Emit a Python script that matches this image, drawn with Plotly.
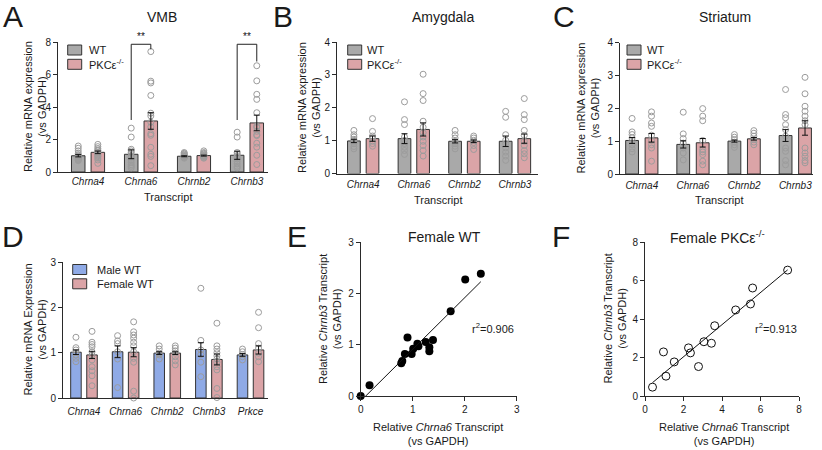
import numpy as np
import plotly.graph_objects as go

W, H = 822, 450
FONT = "Liberation Sans, Arial, Helvetica, sans-serif"
TXT = "#1a1a1a"
AXC = "#2a2a2a"
GRAY = "#a9a9a9"
PINK = "#dba4a7"
BLUE = "#8faae6"
DOT = "#9c9c9c"

# ---------------- data ----------------
genes4 = ["Chrna4", "Chrna6", "Chrnb2", "Chrnb3"]
genes5 = ["Chrna4", "Chrna6", "Chrnb2", "Chrnb3", "Prkce"]

# Panel F: female PKCe-/- (Chrna6 vs Chrnb3)
f_chrna6 = [0.39, 0.96, 1.09, 1.52, 2.26, 2.36, 2.78, 3.06, 3.45, 3.62, 4.71, 5.48, 5.59, 7.41]
f_chrnb3 = [0.46, 2.29, 1.03, 1.77, 2.50, 2.24, 1.53, 2.82, 2.74, 3.65, 4.47, 4.78, 5.61, 6.54]

# Panel E: female WT (Chrna6 vs Chrnb3)
e_chrna6 = [0.0, 0.17, 0.78, 0.80, 0.85, 0.90, 0.98, 1.01, 1.09, 1.11, 1.25, 1.32, 1.32, 1.39, 1.73, 2.01, 2.31]
e_chrnb3 = [0.0, 0.21, 0.64, 0.68, 0.82, 1.14, 0.82, 0.92, 1.02, 0.97, 1.05, 0.95, 0.87, 1.09, 1.65, 2.27, 2.38]

# Panel A: VMB
vmb_wt_mean = [1.00, 1.09, 0.97, 1.03]
vmb_wt_sem = [0.07, 0.27, 0.03, 0.25]
vmb_ko_mean = [1.21, 3.14, 1.01, 3.02]
vmb_ko_sem = [0.08, 0.51, 0.03, 0.48]
vmb_wt_pts = [
    [1.60, 1.46, 1.30, 1.15, 1.05, 1.00, 0.95, 0.90, 0.85, 0.80, 0.75, 0.70],
    [2.70, 2.15, 1.40, 1.30, 1.20, 1.00, 0.90, 0.75, 0.60, 0.45, 0.35, 0.25],
    [1.20, 1.15, 1.10, 1.05, 1.00, 1.00, 0.95, 0.95, 0.90, 0.85],
    [2.45, 2.15, 1.20, 1.10, 1.00, 0.90, 0.80, 0.65, 0.50, 0.35, 0.25],
]
vmb_ko_pts = [
    [1.70, 1.56, 1.45, 1.35, 1.30, 1.21, 1.15, 1.09, 1.00, 0.94, 0.85, 0.74, 0.53],
    f_chrna6,
    [1.30, 1.20, 1.15, 1.10, 1.05, 1.00, 1.00, 0.95, 0.90, 0.85],
    f_chrnb3,
]

# Panel B: Amygdala
amy_wt_mean = [0.99, 1.06, 0.98, 0.98]
amy_wt_sem = [0.05, 0.15, 0.05, 0.16]
amy_ko_mean = [1.06, 1.34, 0.98, 1.06]
amy_ko_sem = [0.08, 0.20, 0.04, 0.14]
amy_wt_pts = [
    [1.31, 1.18, 1.11, 1.04, 0.98, 0.91, 0.82, 0.75],
    [2.18, 1.64, 1.49, 1.11, 1.01, 0.91, 0.80, 0.70, 0.58],
    [1.31, 1.18, 1.08, 0.98, 0.91, 0.83, 0.75],
    [1.89, 1.71, 1.18, 1.01, 0.91, 0.78, 0.65, 0.53, 0.40],
]
amy_ko_pts = [
    [1.67, 1.28, 1.14, 1.08, 0.98, 0.91, 0.83],
    [3.02, 2.43, 2.22, 1.59, 1.41, 1.24, 1.11, 0.98, 0.85, 0.70, 0.53],
    [1.14, 1.08, 1.01, 0.94, 0.85, 0.73],
    [2.28, 1.79, 1.64, 1.31, 1.16, 0.98, 0.85, 0.70, 0.60, 0.48],
]

# Panel C: Striatum
str_wt_mean = [1.02, 0.90, 1.00, 1.17]
str_wt_sem = [0.09, 0.11, 0.03, 0.18]
str_ko_mean = [1.10, 0.95, 1.07, 1.40]
str_ko_sem = [0.13, 0.13, 0.04, 0.22]
str_wt_pts = [
    [1.69, 1.28, 1.20, 1.10, 1.02, 0.89, 0.77, 0.67],
    [1.88, 1.22, 1.08, 0.94, 0.79, 0.64, 0.43],
    [1.20, 1.12, 1.05, 0.97, 0.89, 0.81],
    [2.57, 1.81, 1.71, 1.50, 1.35, 1.15, 0.79, 0.69, 0.41, 0.28],
]
str_ko_pts = [
    [1.89, 1.76, 1.55, 1.45, 1.18, 1.02, 0.89, 0.79, 0.39],
    [1.99, 1.76, 1.62, 1.02, 0.74, 0.67, 0.59, 0.39, 0.28],
    [1.32, 1.24, 1.15, 1.05, 0.97, 0.89],
    [2.94, 2.44, 2.06, 1.91, 1.76, 1.62, 1.50, 0.79, 0.64, 0.54, 0.41, 0.34],
]

# Panel D: male vs female WT
male_mean = [1.01, 1.02, 0.99, 1.07, 0.95]
male_sem = [0.05, 0.13, 0.03, 0.15, 0.03]
female_mean = [0.95, 1.01, 0.99, 0.85, 1.06]
female_sem = [0.08, 0.10, 0.03, 0.12, 0.09]
male_pts = [
    [1.34, 1.11, 1.06, 1.00, 0.95, 0.875, 0.80],
    [1.375, 1.26, 1.20, 1.02, 0.86, 0.23],
    [1.15, 1.08, 0.99, 0.95, 0.86],
    [2.42, 1.27, 1.06, 0.96, 0.79, 0.47],
    [1.08, 1.02, 0.96, 0.91, 0.84],
]
female_pts = [
    [1.47, 1.23, 1.18, 1.13, 1.02, 0.95, 0.84, 0.69, 0.60, 0.49, 0.27],
    [1.68, 1.46, 1.39, 1.32, 1.23, 1.15, 1.02, 0.875, 0.79, 0.15, 0.0],
    [1.15, 1.10, 1.04, 0.99, 0.91, 0.82, 0.73],
    [1.65, 1.15, 1.08, 1.00, 0.93, 0.86, 0.79, 0.69, 0.62, 0.21, 0.01],
    [1.89, 1.55, 1.20, 1.10, 0.99, 0.91, 0.80],
]

r2_e = "0.906"
r2_f = "0.913"

# ---------------- helpers ----------------
def px(x):
    return x / W


def py(y):
    return 1 - y / H


fig = go.Figure()
annotations = []
shapes = []


def bar_panel(ax, mean_a, sem_a, pts_a, mean_b, sem_b, pts_b, col_a, col_b, off, bw):
    xa, ya = "x" + ax, "y" + ax
    idx = np.arange(len(mean_a))
    groups = [(mean_a, sem_a, pts_a, col_a, -1), (mean_b, sem_b, pts_b, col_b, 1)]
    for means, sems, pts, col, sgn in groups:
        xs = idx + sgn * off
        fig.add_trace(go.Bar(x=xs, y=means, width=bw,
                             marker=dict(color=col, line=dict(color="#333333", width=1)),
                             xaxis=xa, yaxis=ya, showlegend=False, hoverinfo="skip"))
    for means, sems, pts, col, sgn in groups:
        xs = idx + sgn * off
        for xi, p in zip(xs, pts):
            fig.add_trace(go.Scatter(x=[xi] * len(p), y=p, mode="markers",
                                     marker=dict(symbol="circle-open", size=6, color=DOT,
                                                 line=dict(width=1, color=DOT)),
                                     xaxis=xa, yaxis=ya, showlegend=False, cliponaxis=False))
    for means, sems, pts, col, sgn in groups:
        xs = idx + sgn * off
        fig.add_trace(go.Scatter(x=xs, y=means, mode="markers",
                                 marker=dict(size=1, color="rgba(0,0,0,0)"),
                                 error_y=dict(type="data", array=sems, color="#111111",
                                              thickness=1, width=3),
                                 xaxis=xa, yaxis=ya, showlegend=False))


bar_panel("", vmb_wt_mean, vmb_wt_sem, vmb_wt_pts, vmb_ko_mean, vmb_ko_sem, vmb_ko_pts, GRAY, PINK, 0.185, 0.255)
bar_panel("2", amy_wt_mean, amy_wt_sem, amy_wt_pts, amy_ko_mean, amy_ko_sem, amy_ko_pts, GRAY, PINK, 0.184, 0.251)
bar_panel("3", str_wt_mean, str_wt_sem, str_wt_pts, str_ko_mean, str_ko_sem, str_ko_pts, GRAY, PINK, 0.19, 0.25)
bar_panel("4", male_mean, male_sem, male_pts, female_mean, female_sem, female_pts, BLUE, PINK, 0.193, 0.253)

# significance brackets in A (Chrna6, Chrnb3)
sig_idx = [1, 3]
sig_right_end = [7.55, 6.8]
for gi, re in zip(sig_idx, sig_right_end):
    fig.add_trace(go.Scatter(x=[gi - 0.185, gi - 0.185, gi + 0.185, gi + 0.185],
                             y=[3.2, 7.86, 7.86, re], mode="lines",
                             line=dict(color="#222", width=1), xaxis="x", yaxis="y",
                             showlegend=False, cliponaxis=False))
    annotations.append(dict(x=gi, y=7.86, xref="x", yref="y", text="**", showarrow=False,
                            yanchor="bottom", font=dict(size=10, color="#111111", family=FONT)))

# scatter panels E and F
fig.add_trace(go.Scatter(x=e_chrna6, y=e_chrnb3, mode="markers",
                         marker=dict(symbol="circle", size=8, color="#000"),
                         xaxis="x5", yaxis="y5", showlegend=False, cliponaxis=False))
fig.add_trace(go.Scatter(x=f_chrna6, y=f_chrnb3, mode="markers",
                         marker=dict(symbol="circle-open", size=8, color="#111",
                                     line=dict(width=1, color="#111")),
                         xaxis="x6", yaxis="y6", showlegend=False, cliponaxis=False))
for xs, ys, ax in [(e_chrna6, e_chrnb3, "5"), (f_chrna6, f_chrnb3, "6")]:
    k, b = np.polyfit(xs, ys, 1)
    lx = np.array([min(xs), max(xs)])
    fig.add_trace(go.Scatter(x=lx, y=k * lx + b, mode="lines", line=dict(color="#111", width=1),
                             xaxis="x" + ax, yaxis="y" + ax, showlegend=False))

# ---------------- axes ----------------
def yax(dom_px, rng, dt):
    return dict(domain=[py(dom_px[1]), py(dom_px[0])], range=rng, dtick=dt, tick0=0,
                showgrid=False, zeroline=False, showline=True, linecolor=AXC, linewidth=1,
                ticks="outside", ticklen=4, tickwidth=1, tickcolor=AXC, automargin=False,
                tickfont=dict(size=10, color=TXT, family=FONT), fixedrange=True)


def xcat(dom_px, rng, labels, anchor, standoff=0):
    return dict(domain=[px(dom_px[0]), px(dom_px[1])], range=rng,
                tickvals=list(range(len(labels))), ticktext=["<i>%s</i>" % g for g in labels],
                showgrid=False, zeroline=False, showline=True, linecolor=AXC, linewidth=1,
                ticks="", tickfont=dict(size=10, color=TXT, family=FONT), anchor=anchor,
                ticklabelstandoff=standoff, automargin=False, fixedrange=True)


def xnum(dom_px, rng, dt, anchor):
    return dict(domain=[px(dom_px[0]), px(dom_px[1])], range=rng, dtick=dt, tick0=0,
                showgrid=False, zeroline=False, showline=True, linecolor=AXC, linewidth=1,
                ticks="outside", ticklen=4, tickwidth=1, tickcolor=AXC, automargin=False,
                tickfont=dict(size=10, color=TXT, family=FONT), anchor=anchor, fixedrange=True)


layout_axes = dict(
    xaxis=xcat((58, 268), [-0.567, 3.397], genes4, "y"),
    yaxis=dict(yax((42, 172), [0, 8], 2), anchor="x"),
    xaxis2=xcat((337, 538), [-0.518, 3.455], genes4, "y2", 1),
    yaxis2=dict(yax((42, 173.5), [0, 4], 1), anchor="x2"),
    xaxis3=xcat((620, 813), [-0.426, 3.346], genes4, "y3", 2),
    yaxis3=dict(yax((42.5, 174), [0, 4], 1), anchor="x3"),
    xaxis4=xcat((63, 268), [-0.504, 4.42], genes5, "y4", 4),
    yaxis4=dict(yax((262, 398), [0, 3], 1), anchor="x4"),
    xaxis5=xnum((360.7, 516.7), [0, 3], 1, "y5"),
    yaxis5=dict(yax((242, 396), [0, 3], 1), anchor="x5"),
    xaxis6=xnum((645, 799), [0, 8], 2, "y6"),
    yaxis6=dict(yax((242, 396), [0, 8], 2), anchor="x6"),
)


def txt(x, y, s, size, xanchor="center", yanchor="middle", angle=0):
    annotations.append(dict(x=px(x), y=py(y), xref="paper", yref="paper", text=s,
                            showarrow=False, xanchor=xanchor, yanchor=yanchor, textangle=angle,
                            font=dict(size=size, color=TXT, family=FONT)))


# panel letters
for L, x, y in [("A", 12.5, 16), ("B", 283, 16), ("C", 564, 16),
                ("D", 13, 236), ("E", 297, 236), ("F", 561, 236)]:
    txt(x, y, L, 30)

# titles
txt(162, 17, "VMB", 14)
txt(443, 17, "Amygdala", 14)
txt(725, 17, "Striatum", 14)
txt(445, 237, "Female WT", 14)
txt(717, 237, "Female PKCε<sup>-/-</sup>", 14)

# y titles
txt(35, 107, "Relative mRNA expression<br>(vs GADPH)", 11, angle=-90)
txt(309, 108, "Relative mRNA expression<br>(vs GADPH)", 11, angle=-90)
txt(587.5, 108, "Relative mRNA expression<br>(vs GADPH)", 11, angle=-90)
txt(34.5, 330, "Relative mRNA Expression<br>(vs GAPDH)", 11, angle=-90)
txt(330, 319, "Relative <i>Chrnb3</i> Transcript<br>(vs GAPDH)", 11, angle=-90)
txt(614.5, 319, "Relative <i>Chrnb3</i> Transcript<br>(vs GAPDH)", 11, angle=-90)

# x titles
txt(168, 197, "Transcript", 11)
txt(439, 200, "Transcript", 11)
txt(719, 200, "Transcript", 11)
txt(438, 434, "Relative <i>Chrna6</i> Transcript<br>(vs GAPDH)", 11)
txt(723.5, 434, "Relative <i>Chrna6</i> Transcript<br>(vs GAPDH)", 11)

# r^2 labels
annotations.append(dict(x=2.1, y=1.32, xref="x5", yref="y5", text="r<sup>2</sup>=" + r2_e,
                        showarrow=False, xanchor="left", font=dict(size=11, color=TXT, family=FONT)))
annotations.append(dict(x=5.6, y=3.53, xref="x6", yref="y6", text="r<sup>2</sup>=" + r2_f,
                        showarrow=False, xanchor="left", font=dict(size=11, color=TXT, family=FONT)))

# legends (swatch + label)
legends = [
    (67.7, 45, 87, [("WT", GRAY), ("PKCε<sup>-/-</sup>", PINK)]),
    (347.7, 45, 365, [("WT", GRAY), ("PKCε<sup>-/-</sup>", PINK)]),
    (627, 45, 644.5, [("WT", GRAY), ("PKCε<sup>-/-</sup>", PINK)]),
    (72.7, 264.5, 95, [("Male WT", BLUE), ("Female WT", PINK)]),
]
for x0, y0, tx, items in legends:
    for i, (lab, col) in enumerate(items):
        yy = y0 + i * 14.3
        shapes.append(dict(type="rect", xref="paper", yref="paper", x0=px(x0), x1=px(x0 + 14),
                           y0=py(yy + 10), y1=py(yy), fillcolor=col,
                           line=dict(color="#333333", width=1)))
        txt(tx, yy + 5, lab, 11, xanchor="left")

fig.update_layout(
    template="none",
    width=W, height=H, margin=dict(l=0, r=0, t=0, b=0, autoexpand=False),
    paper_bgcolor="white", plot_bgcolor="white", barmode="overlay",
    font=dict(family=FONT, color=TXT), annotations=annotations, shapes=shapes,
    hovermode=False, **layout_axes,
)

fig.write_html("out.html", config={"displayModeBar": False, "staticPlot": True},
               post_script="document.body.style.margin='0';document.body.style.overflow='hidden';")
